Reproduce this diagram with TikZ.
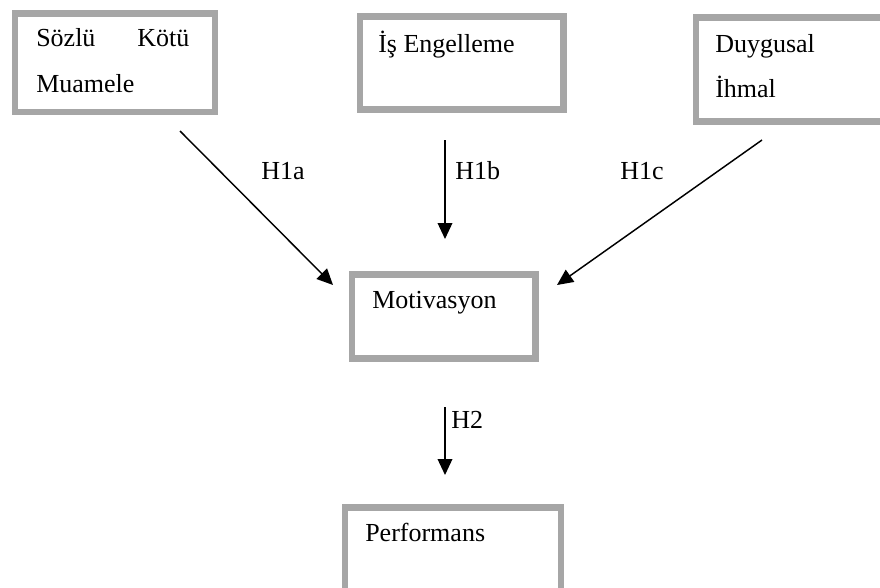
\documentclass[tikz,border=0pt]{standalone}
\usepackage{fontspec}
\setmainfont{Liberation Serif}
\usepackage{tikz}
\usetikzlibrary{arrows.meta}
\definecolor{framegray}{HTML}{A6A6A6}
\tikzstyle{frame} = [rectangle, draw=framegray, line width=5pt, anchor=north west, inner sep=0pt]
\tikzstyle{txt} = [anchor=base west, inner sep=0pt, font=\fontsize{19.5}{23}\selectfont]
\tikzstyle{link} = [-{Triangle[length=12pt,width=11pt]}, line width=1.1pt]

\begin{document}
\begin{tikzpicture}[x=0.75pt, y=-0.75pt]

        \useasboundingbox (0,0) rectangle (880,587);

        %% kutular

        \node (sozlu) [frame, minimum width=150pt, minimum height=73.9pt] at (11.5,10) {};
        \node (isengel) [frame, minimum width=152.6pt, minimum height=70.1pt] at (356.5,13) {};
        \node (duygu) [frame, minimum width=143.6pt, minimum height=78pt] at (692.5,14) {};
        \node (motiv) [frame, minimum width=137.6pt, minimum height=63pt] at (348.5,271) {};
        \node (perf) [frame, minimum width=162pt, minimum height=64.5pt] at (341.5,504) {};

        \node (t1a) [txt] at (36,46) {Sözlü};
        \node (t1b) [txt] at (137,46) {Kötü};
        \node (t1c) [txt] at (36,92.5) {Muamele};
        \node (t2) [txt] at (378,52.5) {İş Engelleme};
        \node (t3a) [txt] at (715,52.5) {Duygusal};
        \node (t3b) [txt] at (715,97) {İhmal};
        \node (t4) [txt] at (372,308) {Motivasyon};
        \node (t5) [txt] at (365,541) {Performans};

        %% oklar

        \coordinate (h1as) at (180,131);
        \coordinate (h1ae) at (333,285);
        \coordinate (h1bs) at (445,140);
        \coordinate (h1be) at (445,239);
        \coordinate (h1cs) at (762,140);
        \coordinate (h1ce) at (557,285);
        \coordinate (h2s) at (445,407);
        \coordinate (h2e) at (445,475);

        \draw[link] (h1as) -- (h1ae);
        \draw[link] (h1bs) -- (h1be);
        \draw[link] (h1cs) -- (h1ce);
        \draw[link] (h2s) -- (h2e);

        \node (l1a) [txt] at (261,179) {H1a};
        \node (l1b) [txt] at (455,179) {H1b};
        \node (l1c) [txt] at (620,179) {H1c};
        \node (l2) [txt] at (451,428) {H2};

    \end{tikzpicture}
\end{document}
